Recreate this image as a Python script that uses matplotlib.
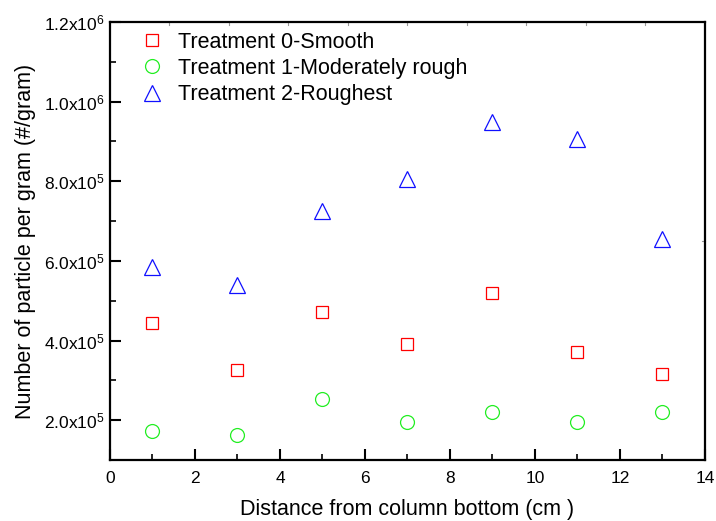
import matplotlib
matplotlib.use('Agg')
from matplotlib import pyplot as plt
from matplotlib.ticker import MultipleLocator, FuncFormatter
import numpy as np

plt.rcParams['font.family'] = ['Liberation Sans', 'DejaVu Sans']
plt.rcParams['mathtext.fontset'] = 'custom'
plt.rcParams['mathtext.rm'] = 'Liberation Sans'
plt.rcParams['mathtext.it'] = 'Liberation Sans:italic'

distance = [1, 3, 5, 7, 9, 11, 13]
smooth = [4.45e5, 3.25e5, 4.72e5, 3.92e5, 5.2e5, 3.72e5, 3.17e5]
moderate = [1.72e5, 1.62e5, 2.52e5, 1.95e5, 2.2e5, 1.95e5, 2.2e5]
roughest = [5.85e5, 5.4e5, 7.25e5, 8.05e5, 9.48e5, 9.05e5, 6.55e5]

fig = plt.figure(figsize=(7.16, 5.21), dpi=100)
ax = fig.add_axes([0.1536, 0.1171, 0.831, 0.8407])

ax.plot(distance, smooth, 's', ms=9, mfc='none', mec='red', mew=0.9,
        label='Treatment 0-Smooth')
ax.plot(distance, moderate, 'o', ms=10, mfc='none', mec='#22ee22', mew=0.9,
        label='Treatment 1-Moderately rough')
ax.plot(distance, roughest, '^', ms=11.5, mfc='none', mec='#1010ff', mew=0.9,
        label='Treatment 2-Roughest')

ax.set_xlim(0, 14)
ax.set_ylim(1e5, 1.2e6)

ax.xaxis.set_major_locator(MultipleLocator(2))
ax.xaxis.set_minor_locator(MultipleLocator(1))
ax.yaxis.set_major_locator(MultipleLocator(2e5))
ax.yaxis.set_minor_locator(MultipleLocator(1e5))


def sci(v, pos):
    if v <= 0:
        return ''
    e = int(np.floor(np.log10(v)))
    return '%.1fx10$^{%d}$' % (v / 10 ** e, e)


ax.yaxis.set_major_formatter(FuncFormatter(sci))

ax.tick_params(which='major', direction='in', length=8, width=1.5,
               labelsize=12.5, pad=4)
ax.tick_params(axis='x', which='major', pad=8)
ax.tick_params(which='minor', direction='in', length=4, width=1.2)
ax.tick_params(top=False, right=False)
for s in ax.spines.values():
    s.set_linewidth(1.6)

# faint ticks on the top / right axes
for xt in np.arange(1.4, 14, 1.4):
    ax.plot([xt, xt], [1.2e6, 1.2e6 - 8000], color='#999999', lw=0.8,
            clip_on=False)
ax.plot([14, 13.93], [6.5e5, 6.5e5], color='#999999', lw=0.8, clip_on=False)

ax.set_xlabel('Distance from column bottom (cm )', fontsize=15.5, labelpad=9)
ax.set_ylabel('Number of particle per gram (#/gram)', fontsize=15.5,
              labelpad=6)

ax.legend(loc='upper left', frameon=False, fontsize=15.5, handletextpad=0.55,
          borderaxespad=0.15, labelspacing=0.25, handlelength=1.3,
          bbox_to_anchor=(0.027, 1.005))

plt.savefig('out.png', dpi=100)
